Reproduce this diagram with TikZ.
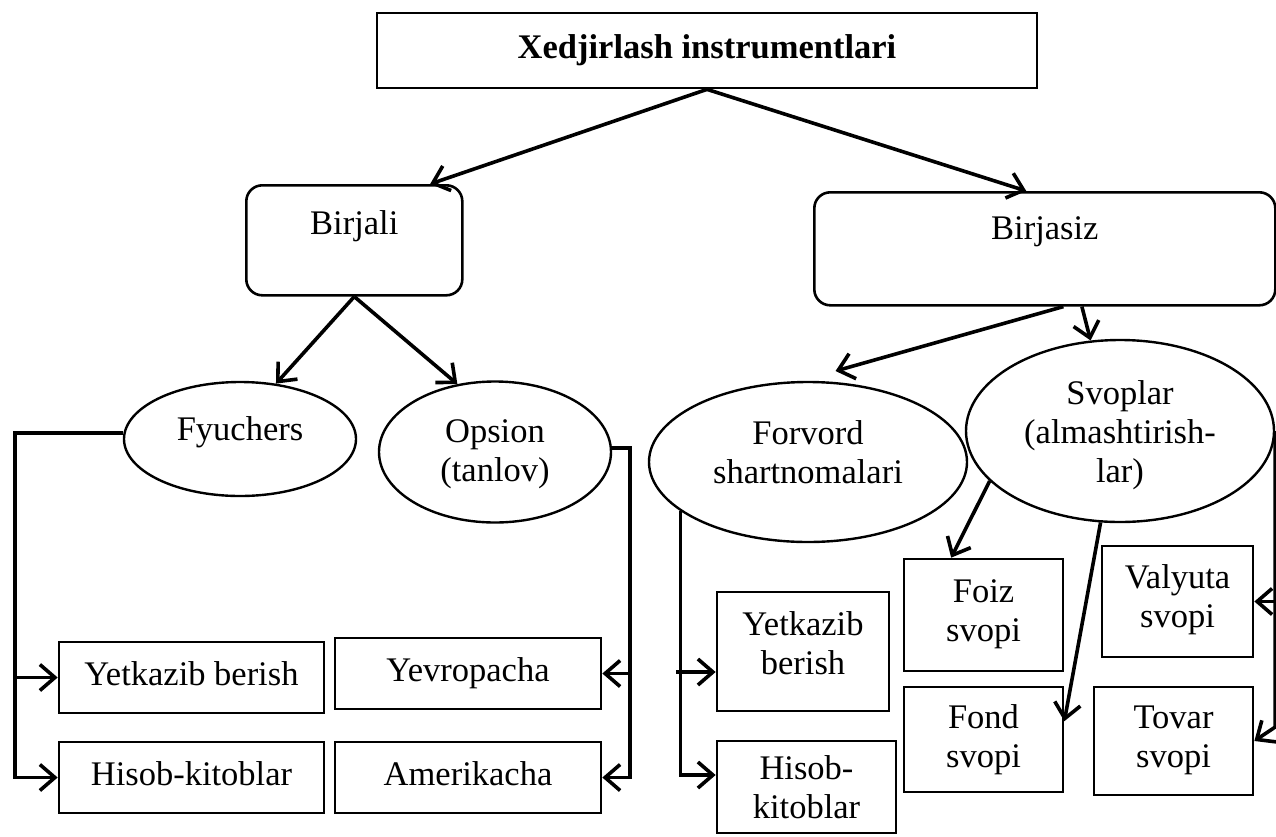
\documentclass[tikz,border=0pt]{standalone}
\usepackage{fontspec}
\setmainfont{Liberation Serif}
\usetikzlibrary{shapes.geometric,arrows.meta,calc}

\begin{document}
\begin{tikzpicture}[x=1pt,y=-1pt,
  every node/.style={font=\fontsize{34.5}{39}\selectfont, inner sep=0pt},
  box/.style={draw, rectangle, line width=2.7pt, align=center},
  oneline/.style={text height=24pt, text depth=9pt},
  twoline/.style={text height=63pt, text depth=#1},
  rbox/.style={draw, rectangle, rounded corners=16pt, line width=2.6pt},
  ell/.style={draw, ellipse, line width=2.4pt, align=center},
  arr/.style={line width=3.6pt, -{Straight Barb[length=15pt,width=26pt]}}]

\useasboundingbox (0,0) rectangle (1276,836);
\fill[white] (0,0) rectangle (1276,836);

% top level
\node[box, minimum width=660pt, minimum height=75pt,
      font=\fontsize{34.5}{39}\selectfont\bfseries] (title) at (707,50.5) {Xedjirlash instrumentlari};

% exchange / over-the-counter
\node[rbox, anchor=north west, minimum width=216pt, text height=49pt, text depth=61pt] (birjali) at (245,184) {Birjali};
\node[rbox, anchor=north west, minimum width=461pt, text height=47pt, text depth=66pt] (birjasiz) at (813,191) {Birjasiz};

% instrument types
\node[ell, minimum width=232pt, minimum height=114pt, text height=24pt, text depth=22pt] (fyuchers) at (240,439) {Fyuchers};
\node[ell, twoline=5pt, minimum width=232pt, minimum height=141pt] (opsion) at (495,452) {Opsion\\(tanlov)};
\node[ell, twoline=21pt, minimum width=318pt, minimum height=160pt] (forvord) at (808,462) {Forvord\\shartnomalari};
\node[ell, text height=102pt, text depth=-2pt, minimum width=308pt, minimum height=182pt] (svoplar) at (1120,431) {Svoplar\\(almashtirish-\\lar)};

% leaves
\node[box, oneline, minimum width=265pt, minimum height=71pt] (yet1) at (191.5,677.5) {Yetkazib berish};
\node[box, oneline, minimum width=265pt, minimum height=71pt] (hisob1) at (191.5,777.5) {Hisob-kitoblar};
\node[box, oneline, minimum width=266pt, minimum height=71pt] (yevro) at (468,673.5) {Yevropacha};
\node[box, oneline, minimum width=266pt, minimum height=71pt] (amer) at (468,777.5) {Amerikacha};
\node[box, twoline=18pt, minimum width=172pt, minimum height=119pt] (yet2) at (803,651.5) {Yetkazib\\berish};
\node[box, twoline=-7pt, minimum width=179pt, minimum height=92pt] (hisob2) at (806.5,787) {Hisob-\\kitoblar};
\node[box, twoline=11pt, minimum width=159pt, minimum height=112pt] (foiz) at (983.5,615) {Foiz\\svopi};
\node[box, twoline=8pt, minimum width=159pt, minimum height=105pt] (fond) at (983.5,739.5) {Fond\\svopi};
\node[box, twoline=12pt, minimum width=151pt, minimum height=111pt] (valyuta) at (1177.5,601.5) {Valyuta\\svopi};
\node[box, twoline=11pt, minimum width=159pt, minimum height=108pt] (tovar) at (1173.5,741) {Tovar\\svopi};

% bus lines
\coordinate (fbus) at (15,0);
\coordinate (obus) at (630,0);

% connectors from the title
\draw[arr] (title.south) -- ($(birjali.north west)!0.847!(birjali.north east)$);
\draw[arr] (title.south) -- ($(birjasiz.north west)!0.46!(birjasiz.north east)$);

% exchange-traded branch
\draw[arr] (birjali.south) -- (fyuchers.57);
\draw[arr] (birjali.south) -- (opsion.119);

\draw[arr] (fyuchers.177) -- (fyuchers.177 -| fbus) -- (hisob1.west -| fbus) -- (hisob1.west);
\draw[arr] (yet1.west -| fbus) -- (yet1.west);

\draw[arr] (opsion.2) -- (opsion.2 -| obus) -- (amer.east -| obus) -- (amer.east);
\draw[arr] (yevro.east -| obus) -- (yevro.east);

% over-the-counter branch
\draw[arr] ($(birjasiz.south west)!0.54!(birjasiz.south east)$) -- ($(forvord.71)+(0,-11)$);
\draw[arr] ($(birjasiz.south west)!0.58!(birjasiz.south east)$) -- (svoplar.108);

\coordinate (y2a) at ($(yet2.west)+(0,20.5)$);
\coordinate (h2a) at ($(hisob2.west)+(0,-12)$);
\draw[arr] (forvord.201) -- (forvord.201 |- h2a) -- (h2a);
\draw[arr] ($(y2a -| forvord.201)+(-4,0)$) -- (y2a);

\draw[arr] (svoplar.201) -- ($(foiz.north west)!0.3!(foiz.north east)$);
\draw[arr] (svoplar.258) -- ($(fond.north east)!0.33!(fond.south east)$);
\draw[arr] (svoplar.east) -- ($(svoplar.east |- tovar.east)+(0,-14)$) -- (tovar.east);
\draw[arr] (valyuta.east -| svoplar.east) -- (valyuta.east);

\end{tikzpicture}
\end{document}
